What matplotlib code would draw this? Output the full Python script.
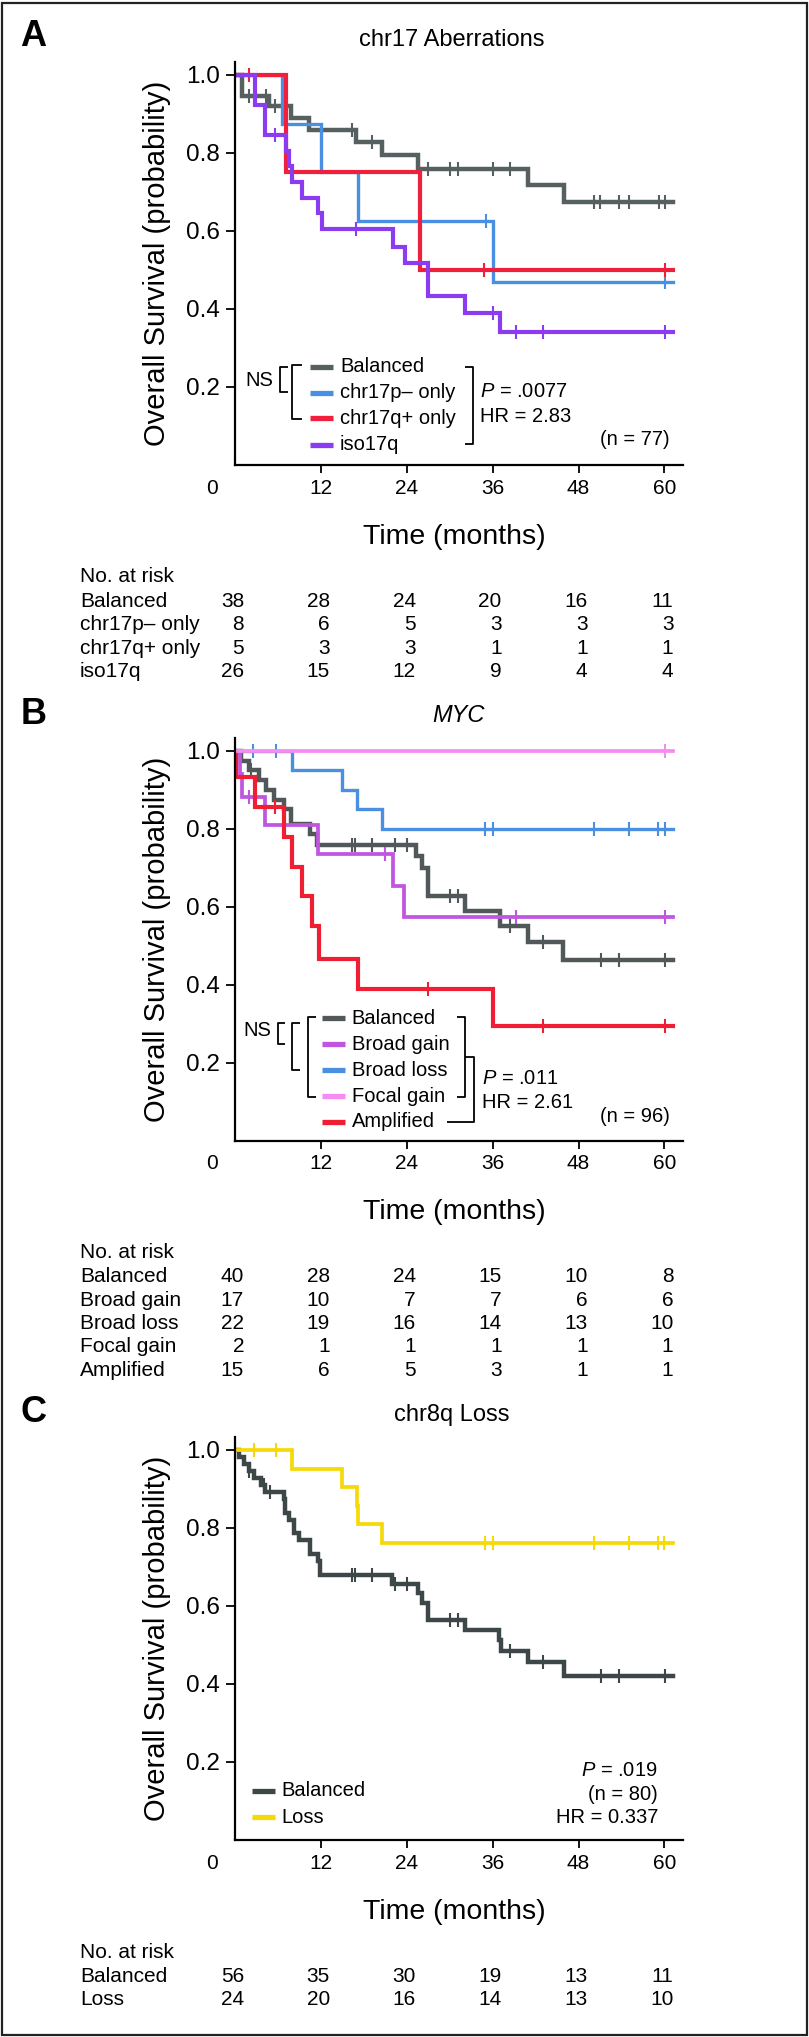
import numpy as np
import matplotlib
matplotlib.use("Agg")
import matplotlib.pyplot as plt
import matplotlib.transforms as mtransforms
from matplotlib.lines import Line2D
from matplotlib.patches import Rectangle

plt.rcParams['font.family'] = ['Liberation Sans', 'DejaVu Sans']
plt.rcParams['mathtext.fontset'] = 'custom'
plt.rcParams['mathtext.it'] = 'Liberation Sans:italic'
plt.rcParams['mathtext.rm'] = 'Liberation Sans'

W, H = 809, 2037
END_T = 61.2
risk_times = [0, 12, 24, 36, 48, 60]

# ---------------- Panel A: chr17 aberrations ----------------
a_names = ['Balanced', 'chr17p\u2013 only', 'chr17q+ only', 'iso17q']
a_colors = ['#566060', '#4a90e2', '#f0203c', '#8c3cf0']
a_bal_t = [1.0, 4.7, 7.8, 10.4, 16.9, 20.5, 25.6, 41.0, 46.0]
a_bal_s = [0.947, 0.919, 0.889, 0.859, 0.827, 0.795, 0.758, 0.718, 0.675]
a_bal_c = [1.9, 4.4, 5.6, 16.3, 19.1, 27.0, 30.0, 31.2, 36.1, 38.4,
           50.1, 51.0, 53.6, 55.0, 59.2, 60.1]
a_p_t = [6.5, 12.0, 17.2, 36.1]
a_p_s = [0.875, 0.75, 0.625, 0.469]
a_p_c = [35.1, 60.1]
a_q_t = [7.1, 25.9]
a_q_s = [0.75, 0.5]
a_q_c = [2.0, 34.8, 60.1]
a_iso_t = [2.8, 4.2, 7.1, 7.6, 8.0, 9.3, 11.6, 12.1, 22.1, 23.8, 27.0, 32.1, 37.0]
a_iso_s = [0.923, 0.846, 0.806, 0.767, 0.726, 0.684, 0.645, 0.605, 0.560,
           0.517, 0.432, 0.389, 0.342]
a_iso_c = [5.6, 16.9, 36.1, 39.3, 43.1, 60.1]
a_risk = [[38, 28, 24, 20, 16, 11],
          [8, 6, 5, 3, 3, 3],
          [5, 3, 3, 1, 1, 1],
          [26, 15, 12, 9, 4, 4]]

# ---------------- Panel B: MYC ----------------
b_names = ['Balanced', 'Broad gain', 'Broad loss', 'Focal gain', 'Amplified']
b_colors = ['#515859', '#c055e0', '#4a8fe0', '#f68cf2', '#f01e32']
b_bal_t = [0.8, 2.0, 3.3, 4.3, 5.5, 6.8, 7.8, 10.5, 11.5, 25.3, 26.1, 27.0,
           32.1, 37.0, 41.0, 45.9]
b_bal_s = [0.975, 0.95, 0.925, 0.9, 0.875, 0.85, 0.812, 0.787, 0.759, 0.729,
           0.699, 0.627, 0.588, 0.55, 0.509, 0.462]
b_bal_c = [2.3, 16.3, 16.8, 19.1, 22.3, 24.0, 30.0, 31.2, 38.4, 43.1, 51.1,
           53.6, 60.1]
b_gain_t = [0.7, 1.0, 4.2, 11.6, 22.1, 23.6]
b_gain_s = [0.941, 0.882, 0.81, 0.735, 0.654, 0.574]
b_gain_c = [2.0, 21.0, 39.3, 60.1]
b_loss_t = [7.9, 15.0, 17.0, 20.6]
b_loss_s = [0.95, 0.9, 0.85, 0.8]
b_loss_c = [2.5, 5.7, 34.9, 36.1, 50.1, 55.1, 59.1, 60.1]
b_focal_t = []
b_focal_s = []
b_focal_c = [60.1]
b_amp_t = [0.2, 2.8, 6.8, 7.9, 9.3, 10.7, 11.8, 17.2, 36.1]
b_amp_s = [0.933, 0.857, 0.779, 0.702, 0.627, 0.55, 0.467, 0.39, 0.293]
b_amp_c = [5.6, 27.0, 43.1, 60.1]
b_risk = [[40, 28, 24, 15, 10, 8],
          [17, 10, 7, 7, 6, 6],
          [22, 19, 16, 14, 13, 10],
          [2, 1, 1, 1, 1, 1],
          [15, 6, 5, 3, 1, 1]]

# ---------------- Panel C: chr8q loss ----------------
c_names = ['Balanced', 'Loss']
c_colors = ['#3d4748', '#f5d90a']
c_bal_t = [0.6, 1.2, 2.0, 2.6, 3.7, 4.2, 6.8, 7.0, 7.5, 8.2, 9.0, 10.5, 11.6,
           11.9, 22.0, 25.6, 26.1, 27.0, 32.1, 36.9, 37.1, 41.0, 46.0]
c_bal_s = [0.982, 0.964, 0.946, 0.929, 0.911, 0.893, 0.875, 0.839, 0.821,
           0.786, 0.768, 0.732, 0.714, 0.679, 0.657, 0.632, 0.607, 0.564,
           0.538, 0.513, 0.485, 0.455, 0.42]
c_bal_c = [2.0, 4.0, 4.9, 16.3, 16.8, 19.1, 22.3, 24.0, 30.0, 31.2, 38.4,
           43.1, 51.1, 53.6, 60.1]
c_loss_t = [7.9, 14.9, 17.0, 17.2, 20.5]
c_loss_s = [0.951, 0.904, 0.857, 0.81, 0.762]
c_loss_c = [2.6, 5.7, 34.9, 36.1, 50.1, 55.1, 59.1, 60.0]
c_risk = [[56, 35, 30, 19, 13, 11],
          [24, 20, 16, 14, 13, 10]]


fig = plt.figure(figsize=(W / 100, H / 100), dpi=100)


def fx(x):
    return x / W


def fy(y):
    return 1 - y / H


def ftext(x, y, s, **kw):
    fig.text(fx(x), fy(y), s, **kw)


def fline(xs, ys, lw=1.3, color='black'):
    fig.add_artist(Line2D([fx(v) for v in xs], [fy(v) for v in ys],
                          lw=lw, color=color, transform=fig.transFigure,
                          solid_capstyle='butt'))


def km(ax, t, s, cens, color, lw):
    tt = np.array([0.0] + list(t) + [END_T])
    ss = np.array([1.0] + list(s) + [s[-1] if len(s) else 1.0])
    ax.step(tt, ss, where='post', color=color, lw=lw, solid_joinstyle='miter')
    cens = np.array(cens)
    idx = np.searchsorted(tt, cens, side='right') - 1
    ax.plot(cens, ss[idx], ls='none', marker='|', ms=10, mew=1.5, color=color)


def make_axes(top, bottom):
    ax = fig.add_axes([fx(235), fy(bottom), (683 - 235) / W, (bottom - top) / H])
    ax.set_xlim(0, 62.6)
    ax.set_ylim(0, 1.033)
    for side in ['top', 'right']:
        ax.spines[side].set_visible(False)
    for side in ['left', 'bottom']:
        ax.spines[side].set_linewidth(1.6)
    ax.set_yticks([0.2, 0.4, 0.6, 0.8, 1.0])
    ax.set_yticklabels(['0.2', '0.4', '0.6', '0.8', '1.0'])
    ax.set_xticks(risk_times)
    ax.set_xticklabels([str(v) for v in risk_times])
    ax.tick_params(axis='y', length=6.5, width=1.3, pad=4.3, labelsize=17.5)
    ax.tick_params(axis='x', length=6, width=1.3, pad=4.0, labelsize=15)
    ax.xaxis.get_major_ticks()[0].tick1line.set_visible(False)
    lab0 = ax.get_xticklabels()[0]
    lab0.set_transform(lab0.get_transform() +
                       mtransforms.ScaledTranslation(-23.4 / 100, 0, fig.dpi_scale_trans))
    ax.text(-0.1748, 0.5, 'Overall Survival (probability)', transform=ax.transAxes,
            rotation=90, ha='center', va='center', fontsize=21)
    return ax


def risk_table(ax, spine_y, names, risk):
    ftext(80, spine_y + 112, 'No. at risk', ha='left', va='center', fontsize=15)
    trans = mtransforms.blended_transform_factory(ax.transData, fig.transFigure)
    trans = mtransforms.offset_copy(trans, fig=fig, x=9, y=0, units='dots')
    for i, (name, row) in enumerate(zip(names, risk)):
        y = spine_y + 136 + 23.5 * i
        ftext(80, y, name, ha='left', va='center', fontsize=15)
        for t, n in zip(risk_times, row):
            ax.text(t, fy(y), str(n), transform=trans, ha='right', va='center',
                    fontsize=15)


def legend(names, colors, ys, hx0, hx1, tx):
    for name, col, y in zip(names, colors, ys):
        fline([hx0, hx1], [y, y], lw=3.8, color=col)
        ftext(tx, y, name, ha='left', va='center', fontsize=14.5)


# ---------- Panel A ----------
axA = make_axes(62, 465)
km(axA, a_bal_t, a_bal_s, a_bal_c, a_colors[0], 3.2)
km(axA, a_p_t, a_p_s, a_p_c, a_colors[1], 2.4)
km(axA, a_q_t, a_q_s, a_q_c, a_colors[2], 3.0)
km(axA, a_iso_t, a_iso_s, a_iso_c, a_colors[3], 3.0)
ftext(33.5, 37, 'A', ha='center', va='center', fontsize=26, fontweight='bold')
ftext(452, 40, 'chr17 Aberrations', ha='center', va='center', fontsize=17)
ftext(454, 537, 'Time (months)', ha='center', va='center', fontsize=20.5)
a_ys = [366.7, 392.5, 418.5, 444.5]
legend(a_names, a_colors, a_ys, 310, 333, 340)
ftext(259, 380, 'NS', ha='center', va='center', fontsize=14.5)
fline([288, 280, 280, 288], [367, 367, 392, 392])
fline([301.5, 292, 292, 301.5], [365, 365, 419, 419])
fline([465, 473.3, 473.3, 465], [367, 367, 443.5, 443.5])
ftext(480, 391.7, r'$P$ = .0077', ha='left', va='center', fontsize=14.5)
ftext(480, 416.7, 'HR = 2.83', ha='left', va='center', fontsize=14.5)
ftext(670, 439.3, '(n = 77)', ha='right', va='center', fontsize=14.5)
risk_table(axA, 465, a_names, a_risk)

# ---------- Panel B ----------
axB = make_axes(738, 1140.5)
km(axB, b_bal_t, b_bal_s, b_bal_c, b_colors[0], 3.2)
km(axB, b_gain_t, b_gain_s, b_gain_c, b_colors[1], 2.7)
km(axB, b_loss_t, b_loss_s, b_loss_c, b_colors[2], 2.4)
km(axB, b_amp_t, b_amp_s, b_amp_c, b_colors[4], 3.0)
km(axB, b_focal_t, b_focal_s, b_focal_c, b_colors[3], 2.7)
ftext(33.5, 715, 'B', ha='center', va='center', fontsize=26, fontweight='bold')
ftext(458, 715, 'MYC', ha='center', va='center', fontsize=17, fontstyle='italic')
ftext(454, 1212, 'Time (months)', ha='center', va='center', fontsize=20.5)
b_ys = [1018.3, 1044, 1070, 1096, 1121.7]
legend(b_names, b_colors, b_ys, 322, 345, 351.5)
ftext(257, 1031, 'NS', ha='center', va='center', fontsize=14.5)
fline([285, 277.5, 277.5, 285], [1023, 1023, 1043.5, 1043.5])
fline([300, 291.7, 291.7, 300], [1023, 1023, 1070, 1070])
fline([316, 307.5, 307.5, 316], [1017, 1017, 1096.5, 1096.5])
fline([456.7, 465, 465, 456.7], [1017, 1017, 1096.5, 1096.5])
fline([465, 474, 474, 446.7], [1056.7, 1056.7, 1121.7, 1121.7])
ftext(482, 1079, r'$P$ = .011', ha='left', va='center', fontsize=14.5)
ftext(482, 1102.5, 'HR = 2.61', ha='left', va='center', fontsize=14.5)
ftext(670, 1116.5, '(n = 96)', ha='right', va='center', fontsize=14.5)
risk_table(axB, 1140.5, b_names, b_risk)

# ---------- Panel C ----------
axC = make_axes(1437, 1840)
km(axC, c_bal_t, c_bal_s, c_bal_c, c_colors[0], 3.2)
km(axC, c_loss_t, c_loss_s, c_loss_c, c_colors[1], 2.7)
ftext(33.5, 1413, 'C', ha='center', va='center', fontsize=26, fontweight='bold')
ftext(451.5, 1415, 'chr8q Loss', ha='center', va='center', fontsize=17)
ftext(454, 1912, 'Time (months)', ha='center', va='center', fontsize=20.5)
legend(c_names, c_colors, [1790.7, 1817.3], 252, 274.5, 281)
ftext(658, 1770.7, r'$P$ = .019', ha='right', va='center', fontsize=14.5)
ftext(658, 1794, '(n = 80)', ha='right', va='center', fontsize=14.5)
ftext(658, 1817.3, 'HR = 0.337', ha='right', va='center', fontsize=14.5)
risk_table(axC, 1840, c_names, c_risk)

# outer frame
fig.add_artist(Rectangle((fx(1.5), fy(2035)), fx(807) - fx(1.5), fy(3) - fy(2035),
                         transform=fig.transFigure, fill=False, lw=1.6,
                         edgecolor='#222222'))

fig.savefig('out.png', dpi=100)
